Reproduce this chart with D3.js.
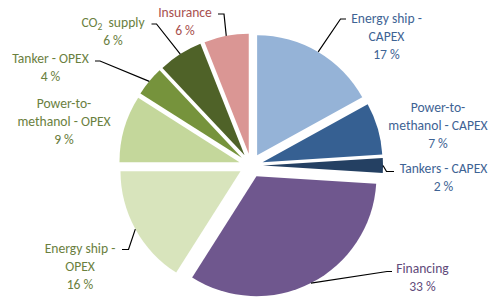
<!DOCTYPE html>
<html>
<head>
<meta charset="utf-8">
<script src="https://cdn.jsdelivr.net/npm/d3@7"></script>
<style>
  html, body { margin: 0; padding: 0; background: #fff; }
  svg text { font-family: Carlito, Calibri, Lato, sans-serif; font-size: 13.6px; }
</style>
</head>
<body>
<div id="chart"></div>
<script>
// cost shares (percent), clockwise from 12 o'clock
const categories = ["Energy ship - CAPEX", "Power-to-methanol - CAPEX", "Tankers - CAPEX", "Financing",
    "Energy ship - OPEX", "Power-to-methanol - OPEX", "Tanker - OPEX", "CO2 supply", "Insurance"];
const shares = [17, 7, 2, 33, 16, 9, 4, 6, 6];
const labelLines = [
    ["Energy ship -", "CAPEX"],
    ["Power-to-", "methanol - CAPEX"],
    ["Tankers - CAPEX"],
    ["Financing"],
    ["Energy ship -", "OPEX"],
    ["Power-to-", "methanol - OPEX"],
    ["Tanker - OPEX"],
    ["CO2 supply"],
    ["Insurance"]
];

const fills = ["#95b3d7", "#366092", "#244062", "#6f578e", "#d8e4bc", "#c4d79b", "#76933c", "#4f6228", "#da9694"];
const textColors = ["#3e6394", "#3e6394", "#3e6394", "#5f4a7a", "#6a803e", "#6a803e", "#6a803e", "#6a803e", "#a8504e"];

// label placement: block centre x, first line centre y, leader elbow/end (Excel-style)
const labelPos = [
    { x: 386.5, y: 18, leader: [[340.5, 19], [346, 19]] },
    { x: 438, y: 107, leader: null },
    { x: 443.5, y: 168.5, leader: [[386.5, 171.5], [394, 171.5]] },
    { x: 422.5, y: 268, leader: [[387, 271.5], [392, 271.5]] },
    { x: 80, y: 248, leader: [[128.5, 249.5], [122, 249.5]] },
    { x: 64, y: 103, leader: null },
    { x: 50.5, y: 58, leader: [[100, 61], [95, 61]] },
    { x: 113, y: 22, leader: [[156.5, 24], [151.5, 24]] },
    { x: 185, y: 12, leader: [[224, 14], [218, 14]] }
];

const width = 500, height = 303;
const cx = 251, cy = 165.5, radius = 120, explode = 12, lineH = 18;

const svg = d3.select("#chart")
    .append("svg")
    .attr("width", width)
    .attr("height", height);

const data = shares.map((v, i) => ({ name: categories[i], value: v, i: i }));

const pie = d3.pie()
    .sort(null)
    .value(d => d.value);

const arc = d3.arc()
    .innerRadius(0)
    .outerRadius(radius);

const arcs = pie(data);

// offset of each exploded slice along its bisector
function offset(a, dist) {
    const m = (a.startAngle + a.endAngle) / 2;
    return [Math.sin(m) * dist, -Math.cos(m) * dist];
}

const g = svg.append("g")
    .attr("transform", `translate(${cx},${cy})`);

g.selectAll("path.slice")
    .data(arcs)
    .enter()
    .append("path")
    .attr("class", "slice")
    .attr("transform", d => `translate(${offset(d, explode)})`)
    .attr("d", arc)
    .attr("fill", (d, i) => fills[i]);

// leader lines: from arc midpoint to elbow to end
arcs.forEach((a, i) => {
    const lp = labelPos[i];
    if (!lp.leader) return;
    const o = offset(a, explode + radius);
    const pts = [[cx + o[0], cy + o[1]]].concat(lp.leader);
    svg.append("path")
        .attr("d", d3.line()(pts))
        .attr("fill", "none")
        .attr("stroke", "#000")
        .attr("stroke-width", 1.2);
});

// labels
arcs.forEach((a, i) => {
    const lp = labelPos[i];
    const t = svg.append("text")
        .attr("text-anchor", "middle")
        .attr("fill", textColors[i]);
    const lines = labelLines[i].concat([Math.round(a.data.value) + " %"]);
    lines.forEach((ln, k) => {
        const ts = t.append("tspan")
            .attr("x", lp.x)
            .attr("y", lp.y + k * lineH)
            .attr("dy", "0.35em");
        if (ln.startsWith("CO2")) {
            ts.text("CO");
            t.append("tspan").attr("dy", "3").style("font-size", "9.5px").text("2");
            t.append("tspan").attr("dy", "-3").text("\u00a0 supply");
        } else {
            ts.text(ln);
        }
    });
});
</script>
</body>
</html>
